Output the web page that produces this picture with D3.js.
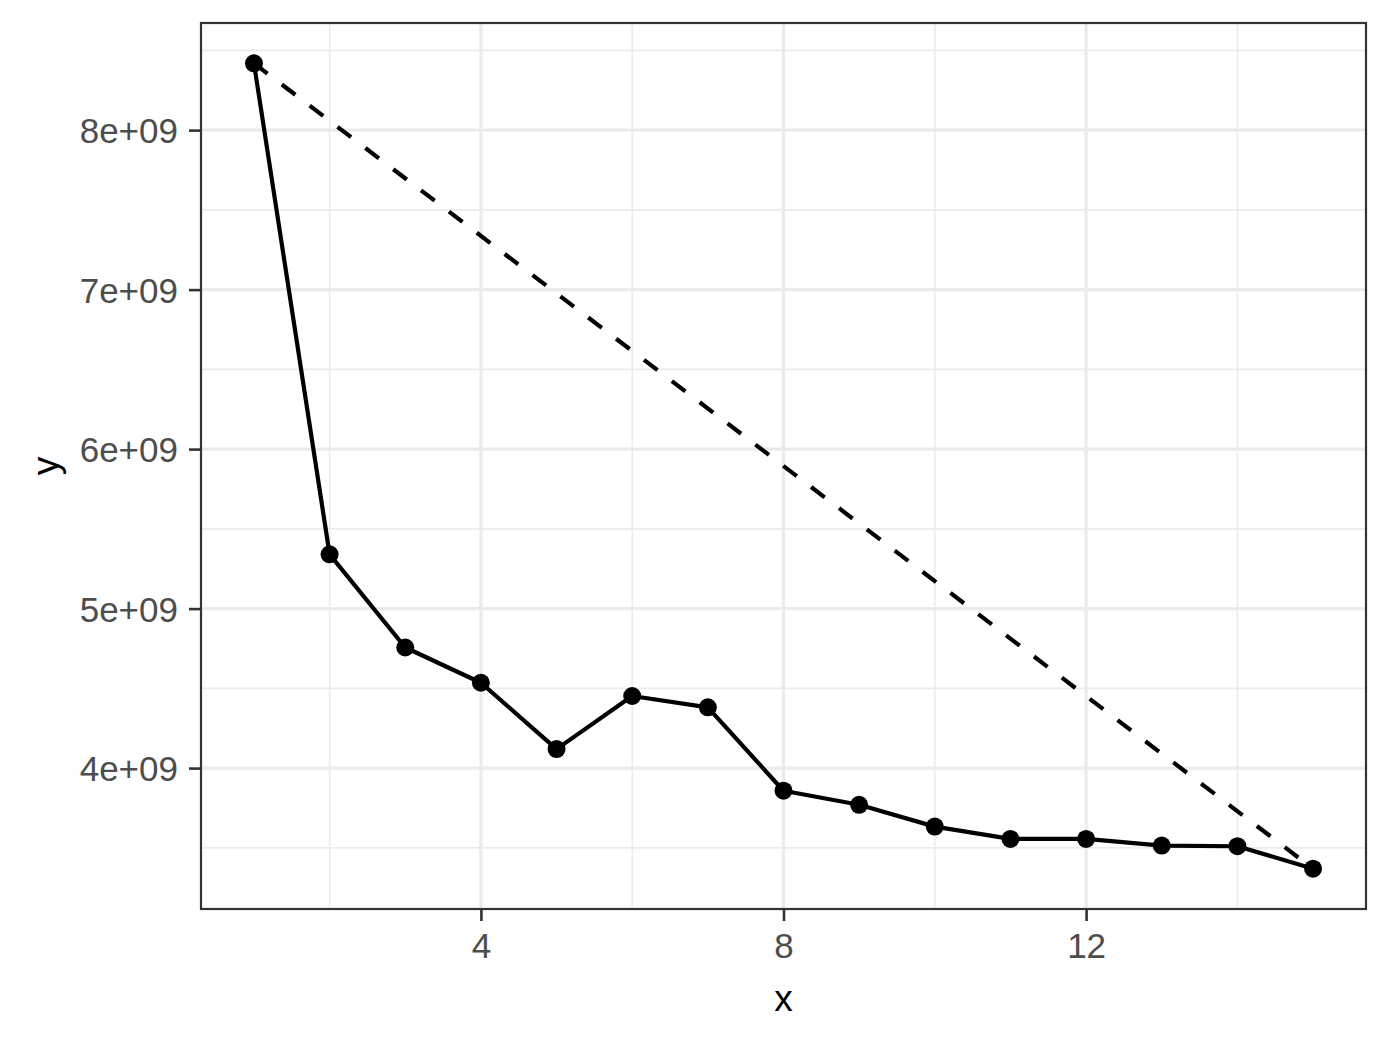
<!DOCTYPE html>
<html><head><meta charset="utf-8">
<script src="https://cdn.jsdelivr.net/npm/d3@7"></script>
<style>body{margin:0;background:#fff}svg{display:block}</style>
</head><body>
<svg id="chart" width="1390" height="1046"></svg>
<script>
const xValues = [1,2,3,4,5,6,7,8,9,10,11,12,13,14,15];
const yValues = [8.419e9,5.34e9,4.756e9,4.535e9,4.119e9,4.452e9,4.381e9,3.858e9,3.77e9,3.633e9,3.556e9,3.556e9,3.514e9,3.51e9,3.369e9];
const xTicks = [4,8,12];
const xMinor = [2,6,10,14];
const yTicks = [4e9,5e9,6e9,7e9,8e9];
const yTickLabels = ["4e+09","5e+09","6e+09","7e+09","8e+09"];
const yMinor = [3.5e9,4.5e9,5.5e9,6.5e9,7.5e9,8.5e9];

const svg = d3.select("#chart");
const L = 201, R = 1366, T = 23, B = 909;
const xr = d3.extent(xValues), yr = d3.extent(yValues);
const xe = (xr[1]-xr[0])*0.05, ye = (yr[1]-yr[0])*0.05;
const x = d3.scaleLinear().domain([xr[0]-xe, xr[1]+xe]).range([L, R]);
const y = d3.scaleLinear().domain([yr[0]-ye, yr[1]+ye]).range([B, T]);
const font = "'Liberation Sans', Arial, Helvetica, sans-serif";

const g = svg.append("g");
// minor grid
g.selectAll(".xm").data(xMinor).join("line").attr("x1",d=>x(d)).attr("x2",d=>x(d)).attr("y1",T).attr("y2",B).attr("stroke","#EBEBEB").attr("stroke-width",1.6);
g.selectAll(".ym").data(yMinor).join("line").attr("y1",d=>y(d)).attr("y2",d=>y(d)).attr("x1",L).attr("x2",R).attr("stroke","#EBEBEB").attr("stroke-width",1.6);
// major grid
g.selectAll(".xM").data(xTicks).join("line").attr("x1",d=>x(d)).attr("x2",d=>x(d)).attr("y1",T).attr("y2",B).attr("stroke","#EBEBEB").attr("stroke-width",3.2);
g.selectAll(".yM").data(yTicks).join("line").attr("y1",d=>y(d)).attr("y2",d=>y(d)).attr("x1",L).attr("x2",R).attr("stroke","#EBEBEB").attr("stroke-width",3.2);

// dashed line from first to last
const n = xValues.length;
svg.append("line")
  .attr("x1",x(xValues[0])).attr("y1",y(yValues[0]))
  .attr("x2",x(xValues[n-1])).attr("y2",y(yValues[n-1]))
  .attr("stroke","#000").attr("stroke-width",4.2).attr("stroke-dasharray","17,18");

const pts = xValues.map((d,i)=>[d,yValues[i]]);
svg.append("path").datum(pts)
  .attr("d", d3.line().x(d=>x(d[0])).y(d=>y(d[1])))
  .attr("fill","none").attr("stroke","#000").attr("stroke-width",4.2).attr("stroke-linejoin","round");
svg.selectAll(".pt").data(pts).join("circle")
  .attr("cx",d=>x(d[0])).attr("cy",d=>y(d[1])).attr("r",9).attr("fill","#000");

// panel border
svg.append("rect").attr("x",L).attr("y",T).attr("width",R-L).attr("height",B-T)
  .attr("fill","none").attr("stroke","#333").attr("stroke-width",2.2);

// axes
const xAxis = d3.axisBottom(x).tickValues(xTicks).tickSize(12).tickPadding(6).tickFormat(d3.format("d"));
const ax = svg.append("g").attr("transform",`translate(0,${B})`).call(xAxis);
const yAxis = d3.axisLeft(y).tickValues(yTicks).tickSize(12).tickPadding(6).tickFormat((d,i)=>yTickLabels[i]);
const ay = svg.append("g").attr("transform",`translate(${L},0)`).call(yAxis);
[ax,ay].forEach(a=>{
  a.select(".domain").remove();
  a.selectAll(".tick line").attr("stroke","#333").attr("stroke-width",2.6);
  a.selectAll(".tick text").attr("fill","#4D4D4D").style("font-family",font).style("font-size","35px");
});
ax.selectAll(".tick text").attr("dy","0.71em").attr("y",24);
ay.selectAll(".tick text").attr("x",-23).attr("dy","0.36em");

svg.append("text").attr("x",(L+R)/2).attr("y",1011).attr("text-anchor","middle")
  .style("font-family",font).style("font-size","37px").attr("fill","#000").text("x");
svg.append("text").attr("transform",`translate(58,${(T+B)/2}) rotate(-90)`).attr("text-anchor","middle")
  .style("font-family",font).style("font-size","37px").attr("fill","#000").text("y");
</script>
</body></html>
